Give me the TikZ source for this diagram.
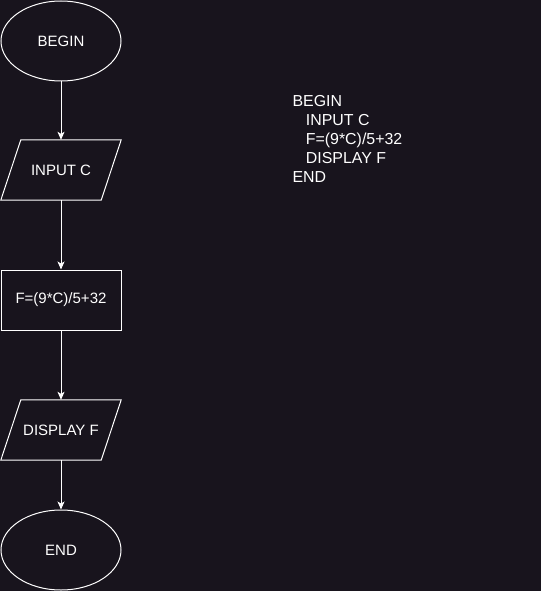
\documentclass[tikz,border=0pt]{standalone}
\usepackage{fontspec}
\setmainfont{Liberation Sans}
\usetikzlibrary{arrows.meta,shapes.geometric}
\definecolor{bgc}{RGB}{24,20,29}
\begin{document}
\begin{tikzpicture}[x=1pt,y=-1pt,
  shapefont/.style={font=\fontsize{15}{18}\selectfont, text=white},
  term/.style={ellipse, draw=white, line width=1pt, minimum width=120pt, minimum height=80pt, inner sep=0pt, shapefont},
  proc/.style={rectangle, draw=white, line width=1pt, minimum width=120pt, minimum height=60pt, inner sep=0pt, shapefont},
  iobox/.style={rectangle, minimum width=100pt, minimum height=60pt, inner sep=0pt, shapefont},
  conn/.style={draw=white, line width=1pt, -{Stealth[length=8pt,width=7pt,inset=2pt]}},
  para/.style={draw=white, line width=1pt}]
\useasboundingbox[fill=bgc] (0,0) rectangle (541,591);
\node[term] (begin) at (61,41) {BEGIN};
\node[iobox] (inp) at (61,170) {INPUT C};
\node[proc] (calc) at (61,300) {F=(9*C)/5+32};
\node[iobox] (disp) at (61,430) {DISPLAY F};
\node[term] (end) at (61,550) {END};
\foreach \n in {inp,disp}{
  \draw[para] ([xshift=-10pt]\n.south west) -- ([xshift=-10pt]\n.south east)
     -- ([xshift=10pt]\n.north east) -- ([xshift=10pt]\n.north west) -- cycle;
}
\draw[conn] (begin.south) -- (inp.north);
\draw[conn] (inp.south) -- (calc.north);
\draw[conn] (calc.south) -- (disp.north);
\draw[conn] (disp.south) -- (end.north);
\node[anchor=north west, inner sep=0pt, align=left, text=white,
  font=\fontsize{15.9}{19}\selectfont] (code) at (292.4,95.5)
  {BEGIN\\\hspace*{13.3pt}INPUT C\\\hspace*{13.3pt}F=(9*C)/5+32\\\hspace*{13.3pt}DISPLAY F\\END};
\end{tikzpicture}
\end{document}
